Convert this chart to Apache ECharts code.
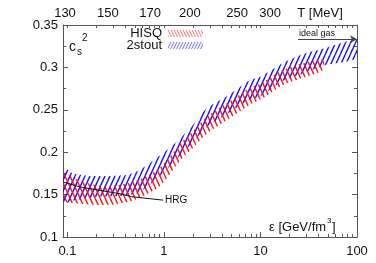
<!DOCTYPE html>
<html><head><meta charset="utf-8">
<script src="https://cdn.jsdelivr.net/npm/echarts@6/dist/echarts.min.js"></script>
<style>html,body{margin:0;padding:0;background:#fff}#c{width:376px;height:263px}</style>
</head><body><div id="c"></div>
<script>
// ---- data ----
const stoutX  = [0.092,0.114,0.185,0.275,0.41,0.56,0.91,1.47,2.0,2.8,4.5,7.8,10,17,28,44.5,100];
const stoutLo = [0.140,0.143,0.147,0.148,0.149,0.153,0.172,0.196,0.212,0.230,0.245,0.262,0.266,0.284,0.293,0.302,0.311];
const stoutHi = [0.181,0.175,0.172,0.172,0.173,0.179,0.196,0.216,0.232,0.252,0.266,0.285,0.289,0.305,0.316,0.322,0.332];
const hisqX   = [0.092,0.114,0.185,0.275,0.41,0.56,0.91,1.47,2.0,2.8,4.5,7.8,10,17,28,44.5];
const hisqLo  = [0.143,0.140,0.138,0.138,0.141,0.146,0.160,0.190,0.205,0.222,0.238,0.256,0.262,0.279,0.288,0.297];
const hisqHi  = [0.177,0.170,0.162,0.160,0.163,0.168,0.182,0.210,0.225,0.242,0.258,0.276,0.281,0.297,0.305,0.309];
const hrgX = [0.09,0.135,0.218,0.351,0.463,0.978];
const hrgY = [0.165,0.159,0.155,0.151,0.1475,0.1435];
const idealX = [24.5,100];
const idealY = 1/3;
const epsTicks = [0.1,1,10,100];
const epsMinor = [0.2,0.3,0.4,0.5,0.6,0.7,0.8,0.9,2,3,4,5,6,7,8,9,20,30,40,50,60,70,80,90];
const tLabels = ['130','150','170','200','250','300','T [MeV]'];
const tEps    = [0.0944,0.263,0.718,1.86,5.72,12.6,41.4];

function hatch(color, dir, w, h, lw) {
  const c = document.createElement('canvas'); c.width = w; c.height = h;
  const ctx = c.getContext('2d'); ctx.strokeStyle = color; ctx.lineWidth = lw;
  for (const k of [-1,0,1]) {
    ctx.beginPath();
    if (dir > 0) { ctx.moveTo(k*w, h); ctx.lineTo(k*w+w, 0); }
    else { ctx.moveTo(k*w, 0); ctx.lineTo(k*w+w, h); }
    ctx.stroke();
  }
  return {image: c, repeat: 'repeat'};
}
const redPat = hatch('#ff1010', -1, 5, 11, 1.35);
const bluePat = hatch('#1010ff', 1, 5, 11, 1.35);
const redLeg = hatch('#ff7070', -1, 3, 6, 1);
const blueLeg = hatch('#7070ff', 1, 3, 6, 1);

function band(name, xs, lo, hi, pat, z) {
  return {
    type: 'custom', name: name, z: z, clip: true,
    itemStyle: {color: pat},
    data: xs.map((x,i) => [x, lo[i], hi[i]]),
    encode: {x: 0, y: [1,2]},
    renderItem: function (params, api) {
      if (params.dataIndex !== 0) return null;
      const pts = [];
      for (let i = 0; i < xs.length; i++) pts.push(api.coord([xs[i], hi[i]]));
      for (let i = xs.length-1; i >= 0; i--) pts.push(api.coord([xs[i], lo[i]]));
      return {type: 'polygon', shape: {points: pts, smooth: 0.25}, style: {fill: pat, stroke: null}};
    }
  };
}

const axisCol = '#555';
const font = 'Liberation Sans';
const fs = 13;
const chart = echarts.init(document.getElementById('c'), null, {renderer: 'canvas'});
chart.setOption({
  animation: false,
  textStyle: {fontFamily: font},
  grid: {left: 63, right: 19, top: 25, bottom: 26, containLabel: false},
  xAxis: [
    {type: 'log', position: 'bottom', min: 0.09, max: 100,
     axisLine: {show: true, lineStyle: {color: axisCol}},
     axisTick: {show: true, inside: true, length: 5, customValues: epsTicks, lineStyle: {color: axisCol}},
     axisLabel: {customValues: epsTicks, color: '#111', fontSize: fs, margin: 8, fontFamily: font,
                 formatter: v => String(v)},
     splitLine: {show: false}},
    {type: 'log', position: 'bottom', min: 0.09, max: 100,
     axisLine: {show: false},
     axisTick: {show: true, inside: true, length: 3, customValues: epsMinor, lineStyle: {color: axisCol}},
     axisLabel: {show: false}, splitLine: {show: false}},
    {type: 'log', position: 'top', min: 0.09, max: 100,
     axisLine: {show: true, lineStyle: {color: axisCol}},
     axisTick: {show: true, inside: true, length: 3, customValues: epsTicks.concat(epsMinor), lineStyle: {color: axisCol}},
     axisLabel: {customValues: tEps, color: '#111', fontSize: fs, margin: 5, fontFamily: font,
                 formatter: v => { let b = 0, d = 1e9; tEps.forEach((e,i)=>{const dd=Math.abs(Math.log(e/v)); if(dd<d){d=dd;b=i;}}); return tLabels[b]; }},
     splitLine: {show: false}}
  ],
  yAxis: [
    {type: 'value', position: 'left', min: 0.1, max: 0.35, interval: 0.05,
     axisLine: {show: true, lineStyle: {color: axisCol}},
     axisTick: {show: true, inside: true, length: 5, lineStyle: {color: axisCol}},
     minorTick: {show: true, splitNumber: 2, length: 3, lineStyle: {color: axisCol}},
     axisLabel: {color: '#111', fontSize: fs, margin: 5, fontFamily: font, formatter: v => String(+v.toFixed(2))},
     splitLine: {show: false}},
    {type: 'value', position: 'right', min: 0.1, max: 0.35, interval: 0.05,
     axisLine: {show: true, lineStyle: {color: axisCol}},
     axisTick: {show: true, inside: true, length: 5, lineStyle: {color: axisCol}},
     minorTick: {show: true, splitNumber: 2, length: 3, lineStyle: {color: axisCol}},
     axisLabel: {show: false}, splitLine: {show: false}}
  ],
  legend: [
    {data: [{name: 'HISQ', icon: 'rect', itemStyle: {color: redLeg}}], right: 173, top: 27, align: 'right',
     itemWidth: 35, itemHeight: 7, itemGap: 0, padding: 0, textStyle: {fontSize: fs, color: '#111', fontFamily: font, padding: [0,1,0,0]}},
    {data: [{name: '2stout', icon: 'rect', itemStyle: {color: blueLeg}}], right: 173, top: 39, align: 'right',
     itemWidth: 35, itemHeight: 7, itemGap: 0, padding: 0, textStyle: {fontSize: fs, color: '#111', fontFamily: font, padding: [0,1,0,0]}}
  ],
  series: [
    band('2stout', stoutX, stoutLo, stoutHi, bluePat, 2),
    band('HISQ', hisqX, hisqLo, hisqHi, redPat, 3),
    {type: 'line', name: 'HRG', z: 5, symbol: 'none', data: hrgX.map((x,i)=>[x, hrgY[i]]),
     lineStyle: {color: '#111', width: 1},
     endLabel: {show: true, formatter: 'HRG', fontSize: 10, color: '#111', distance: 2, fontFamily: font},
     markLine: {silent: true, symbol: ['none','arrow'], symbolSize: [6,7],
       lineStyle: {color: '#444', width: 1, type: 'solid'},
       label: {show: true, formatter: 'ideal gas', position: 'insideStartTop', fontSize: 9, color: '#111', distance: 1, fontFamily: font},
       data: [[{coord: [idealX[0], idealY]}, {coord: [idealX[1], idealY]}]]}}
  ],
  graphic: [
    {type: 'text', left: 69, top: 40, style: {text: 'c', fontSize: 14, fill: '#111', fontFamily: font}},
    {type: 'text', left: 77, top: 47, style: {text: 's', fontSize: 10, fill: '#111', fontFamily: font}},
    {type: 'text', left: 82, top: 33, style: {text: '2', fontSize: 10, fill: '#111', fontFamily: font}},
    {type: 'text', left: 269, top: 221, style: {text: 'ε [GeV/fm', fontSize: 13, fill: '#111', fontFamily: font}},
    {type: 'text', left: 327, top: 217, style: {text: '3', fontSize: 8, fill: '#111', fontFamily: font}},
    {type: 'text', left: 332, top: 221, style: {text: ']', fontSize: 13, fill: '#111', fontFamily: font}}
  ]
});
</script></body></html>
